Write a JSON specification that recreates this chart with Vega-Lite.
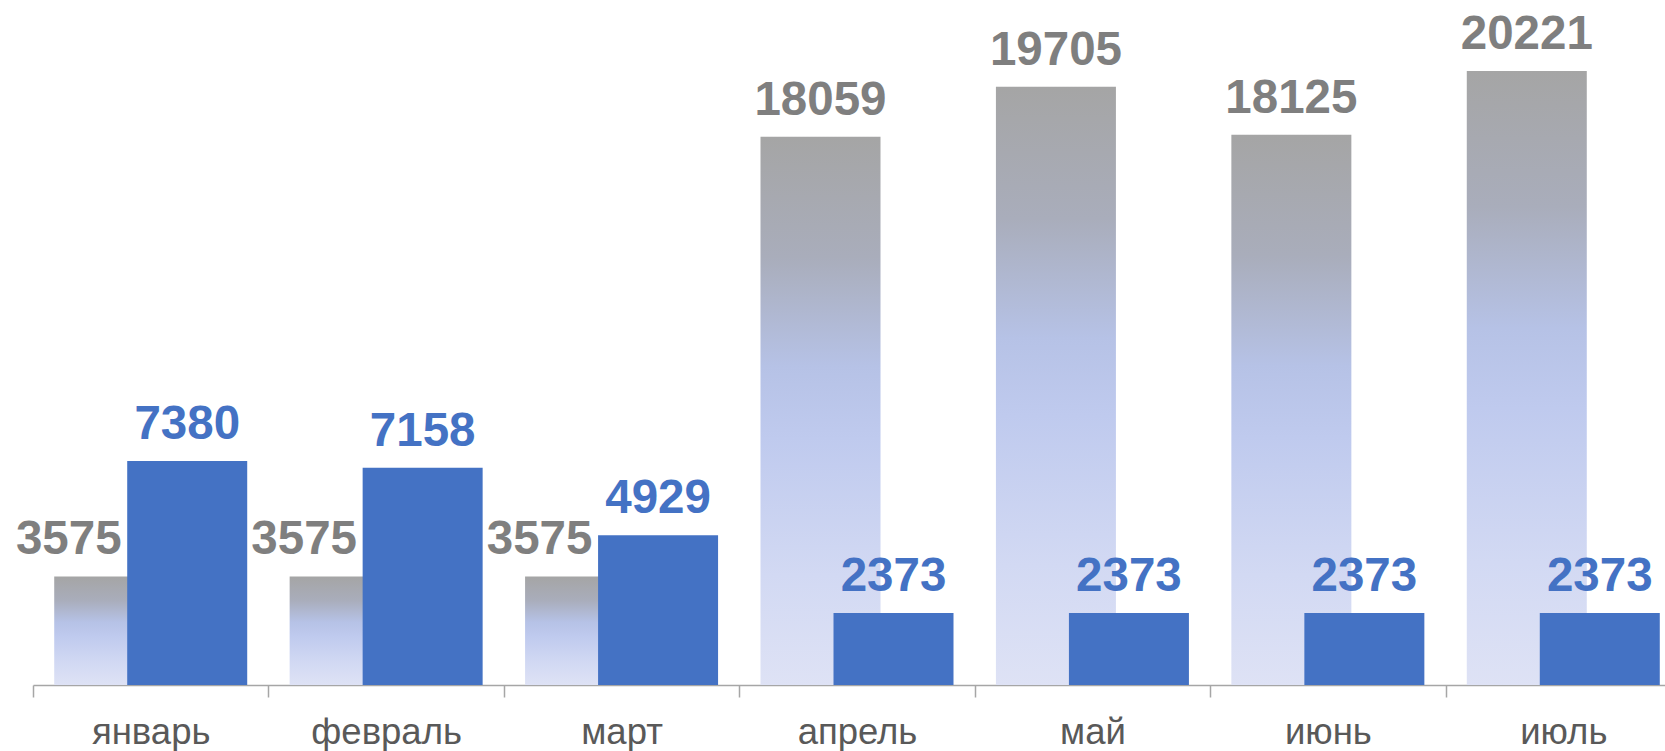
{
  "$schema": "https://vega.github.io/schema/vega-lite/v6.json",
  "autosize": {"type": "none"},
  "width": 1632,
  "height": 685,
  "padding": {"left": 33, "top": 0, "right": 0, "bottom": 66},
  "background": "white",
  "config": {"view": {"stroke": null}},
  "data": {
    "values": [
      {"month": "январь", "grey": 3575, "blue": 7380},
      {"month": "февраль", "grey": 3575, "blue": 7158},
      {"month": "март", "grey": 3575, "blue": 4929},
      {"month": "апрель", "grey": 18059, "blue": 2373},
      {"month": "май", "grey": 19705, "blue": 2373},
      {"month": "июнь", "grey": 18125, "blue": 2373},
      {"month": "июль", "grey": 20221, "blue": 2373}
    ]
  },
  "encoding": {
    "x": {
      "field": "month",
      "type": "nominal",
      "sort": null,
      "title": null,
      "scale": {"paddingInner": 0, "paddingOuter": 0, "range": [0, 1648]},
      "axis": {
        "tickBand": "extent",
        "labelAngle": 0,
        "labelFont": "Liberation Sans",
        "labelFontSize": 36.5,
        "labelColor": "#595959",
        "labelBaseline": "alphabetic",
        "labelPadding": 46,
        "tickSize": 12,
        "tickColor": "#a6a6a6",
        "tickWidth": 1.5,
        "domainColor": "#a6a6a6",
        "domainWidth": 1.5,
        "grid": false
      }
    }
  },
  "layer": [
    {
      "mark": {
        "type": "bar",
        "width": 120,
        "xOffset": -36.5,
        "color": {
          "gradient": "linear",
          "x1": 0, "y1": 0, "x2": 0, "y2": 1,
          "stops": [
            {"offset": 0, "color": "#a5a5a5"},
            {"offset": 0.22, "color": "#a9adbb"},
            {"offset": 0.42, "color": "#b6c2e6"},
            {"offset": 0.55, "color": "#bfcaee"},
            {"offset": 0.8, "color": "#d2d9f3"},
            {"offset": 1, "color": "#dee2f5"}
          ]
        }
      },
      "encoding": {
        "y": {"field": "grey", "type": "quantitative", "scale": {"domain": [0, 22560]}, "axis": null}
      }
    },
    {
      "mark": {"type": "bar", "width": 120, "xOffset": 36.5, "color": "#4472c4"},
      "encoding": {
        "y": {"field": "blue", "type": "quantitative", "scale": {"domain": [0, 22560]}, "axis": null}
      }
    },
    {
      "transform": [{"filter": {"field": "month", "oneOf": ["апрель", "май", "июнь", "июль"]}}],
      "mark": {"type": "text", "xOffset": -36.5, "dy": -22, "baseline": "alphabetic", "align": "center", "font": "Liberation Sans", "fontWeight": "bold", "fontSize": 47.5, "color": "#7f7f7f"},
      "encoding": {
        "y": {"field": "grey", "type": "quantitative", "scale": {"domain": [0, 22560]}, "axis": null},
        "text": {"field": "grey", "type": "quantitative", "format": "d"}
      }
    },
    {
      "transform": [{"filter": {"field": "month", "oneOf": ["январь", "февраль", "март"]}}],
      "mark": {"type": "text", "xOffset": -82, "dy": -22, "baseline": "alphabetic", "align": "center", "font": "Liberation Sans", "fontWeight": "bold", "fontSize": 47.5, "color": "#7f7f7f"},
      "encoding": {
        "y": {"field": "grey", "type": "quantitative", "scale": {"domain": [0, 22560]}, "axis": null},
        "text": {"field": "grey", "type": "quantitative", "format": "d"}
      }
    },
    {
      "mark": {"type": "text", "xOffset": 36.5, "dy": -22, "baseline": "alphabetic", "align": "center", "font": "Liberation Sans", "fontWeight": "bold", "fontSize": 47.5, "color": "#4472c4"},
      "encoding": {
        "y": {"field": "blue", "type": "quantitative", "scale": {"domain": [0, 22560]}, "axis": null},
        "text": {"field": "blue", "type": "quantitative", "format": "d"}
      }
    }
  ]
}
